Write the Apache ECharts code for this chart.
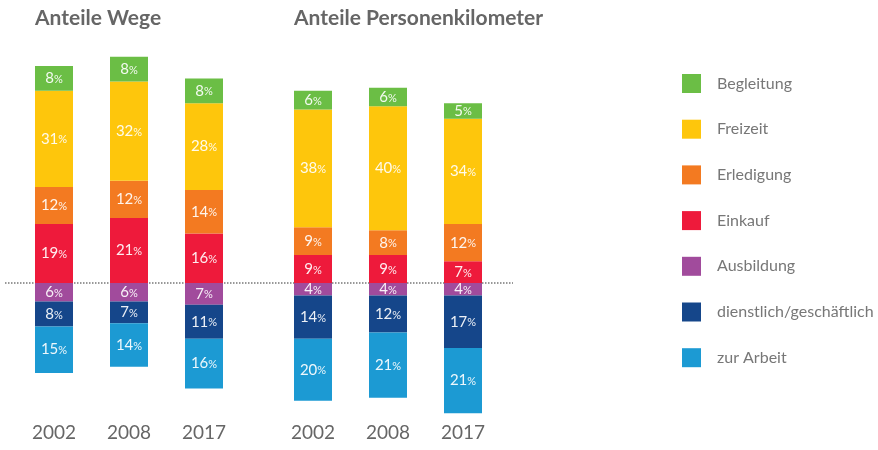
<!DOCTYPE html>
<html><head><meta charset="utf-8">
<script src="https://cdn.jsdelivr.net/npm/echarts@6/dist/echarts.min.js"></script>
<style>html,body{margin:0;padding:0;background:#fff}#c{width:878px;height:450px}</style>
</head><body><div id="c"></div>
<script>
const years = ['2002', '2008', '2017'];
const categories = ['Begleitung', 'Freizeit', 'Erledigung', 'Einkauf', 'Ausbildung', 'dienstlich/geschäftlich', 'zur Arbeit'];
const colors = ['#6BBE45', '#FEC60C', '#F37A21', '#EE1A3B', '#A14B9C', '#15468A', '#1C9AD3'];
// Anteile Wege (%)
const wegeBegleitung = [8, 8, 8];
const wegeFreizeit = [31, 32, 28];
const wegeErledigung = [12, 12, 14];
const wegeEinkauf = [19, 21, 16];
const wegeAusbildung = [6, 6, 7];
const wegeDienstlich = [8, 7, 11];
const wegeArbeit = [15, 14, 16];
// Anteile Personenkilometer (%)
const pkmBegleitung = [6, 6, 5];
const pkmFreizeit = [38, 40, 34];
const pkmErledigung = [9, 8, 12];
const pkmEinkauf = [9, 9, 7];
const pkmAusbildung = [4, 4, 4];
const pkmDienstlich = [14, 12, 17];
const pkmArbeit = [20, 21, 21];

const wege = [wegeBegleitung, wegeFreizeit, wegeErledigung, wegeEinkauf, wegeAusbildung, wegeDienstlich, wegeArbeit];
const pkm = [pkmBegleitung, pkmFreizeit, pkmErledigung, pkmEinkauf, pkmAusbildung, pkmDienstlich, pkmArbeit];
// categories 4..6 lie below the baseline
const below = [false, false, false, false, true, true, true];
// stacking order from the baseline outward
const stackOrder = [3, 2, 1, 0, 4, 5, 6];

const FONT = 'Lato';
const series = [];
[wege, pkm].forEach((group, gi) => {
  stackOrder.forEach(ci => {
    series.push({
      name: categories[ci],
      type: 'bar',
      xAxisIndex: gi, yAxisIndex: gi,
      stack: 'g' + gi,
      barWidth: 38,
      z: 3,
      itemStyle: { color: colors[ci] },
      label: {
        show: true, position: 'inside',
        formatter: p => '{n|' + Math.abs(p.value) + '}{p|%}',
        rich: {
          n: { fontSize: 15, color: 'rgba(255,255,255,0.92)', fontFamily: FONT },
          p: { fontSize: 11, color: 'rgba(255,255,255,0.92)', fontFamily: FONT, padding: [2, 0, 0, 0] }
        }
      },
      data: group[ci].map(v => below[ci] ? -v : v)
    });
  });
});

const gridCommon = { top: 50.5, bottom: 27.5, width: 225 };
const xCommon = {
  type: 'category', data: years,
  axisLine: { show: false, onZero: false }, axisTick: { show: false },
  axisLabel: { color: '#666', fontSize: 19, fontFamily: FONT, margin: 1 }
};
const yCommon = { type: 'value', min: -45, max: 75, show: false, splitLine: { show: false } };

const chart = echarts.init(document.getElementById('c'));
chart.setOption({
  animation: false,
  color: colors,
  title: [
    { text: 'Anteile Wege', left: 30, top: 3, textStyle: { fontSize: 21, fontWeight: 'bold', color: '#666', fontFamily: FONT } },
    { text: 'Anteile Personenkilometer', left: 289, top: 3, textStyle: { fontSize: 21, fontWeight: 'bold', color: '#666', fontFamily: FONT } }
  ],
  legend: {
    orient: 'vertical', left: 677, top: 69,
    data: categories,
    icon: 'rect', itemWidth: 19, itemHeight: 19, itemGap: 26.7,
    textStyle: { color: '#777', fontSize: 16, fontFamily: FONT, padding: [0, 0, 0, 11] },
    selectedMode: false
  },
  grid: [
    Object.assign({ left: 16.5 }, gridCommon),
    Object.assign({ left: 275.5 }, gridCommon)
  ],
  xAxis: [Object.assign({ gridIndex: 0 }, xCommon), Object.assign({ gridIndex: 1 }, xCommon)],
  yAxis: [Object.assign({ gridIndex: 0 }, yCommon), Object.assign({ gridIndex: 1 }, yCommon)],
  series: series
});
const y0 = chart.convertToPixel({ yAxisIndex: 0 }, 0);
chart.setOption({
  graphic: [{
    type: 'line', z: 1,
    shape: { x1: 5, y1: y0, x2: 513, y2: y0 },
    style: { stroke: '#777', lineWidth: 1.5, lineDash: [1.5, 1.5] }
  }]
});
</script></body></html>
